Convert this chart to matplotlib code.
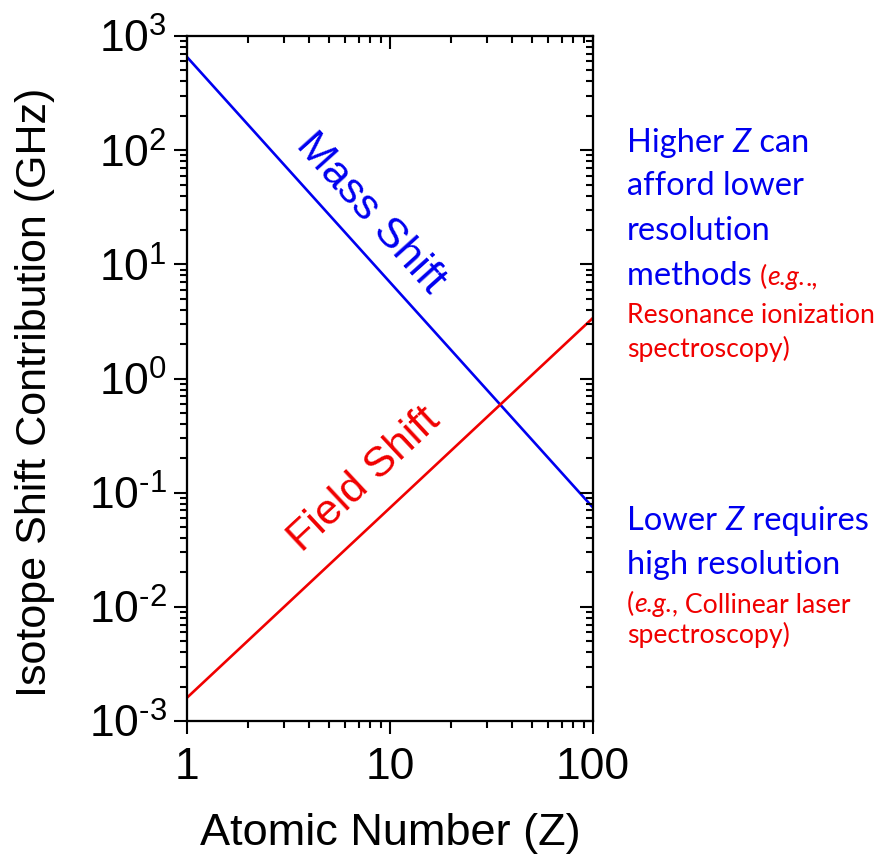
import math

import matplotlib
matplotlib.use("Agg")
import matplotlib.pyplot as plt
from matplotlib.ticker import FuncFormatter

# values (straight lines on log-log axes)
atomic_number = [1, 100]
mass_shift = [655.0, 0.074]
field_shift = [0.0016, 3.4]

x_ticks = [1, 10, 100]
x_tick_labels = ["1", "10", "100"]
y_ticks = [1e-3, 1e-2, 1e-1, 1e0, 1e1, 1e2, 1e3]

BLUE = "#0000f0"
RED = "#f00000"

plt.rcParams["font.family"] = ["Liberation Sans", "DejaVu Sans"]
plt.rcParams["mathtext.fontset"] = "custom"
plt.rcParams["mathtext.rm"] = "Liberation Sans"
plt.rcParams["axes.unicode_minus"] = False


def decade_label(value, pos):
    exp = int(round(math.log10(value)))
    if exp < 0:
        # plain hyphen in the exponent, as in the original
        return r"$\mathdefault{10^{\text{-}%d}}$" % (-exp)
    return r"$\mathdefault{10^{%d}}$" % exp


fig = plt.figure(figsize=(8.8, 8.64), dpi=100)
ax = fig.add_axes([0.2125, 0.1655, 0.4614, 0.7928])

ax.plot(atomic_number, mass_shift, color=BLUE, lw=1.9)
ax.plot(atomic_number, field_shift, color=RED, lw=1.9)

ax.set_xscale("log")
ax.set_yscale("log")
ax.set_xlim(1, 100)
ax.set_ylim(1e-3, 1e3)
ax.set_xticks(x_ticks)
ax.set_xticklabels(x_tick_labels)
ax.set_yticks(y_ticks)
ax.yaxis.set_major_formatter(FuncFormatter(decade_label))

ax.set_xlabel("Atomic Number (Z)", fontsize=32.5)
ax.set_ylabel("Isotope Shift Contribution (GHz)", fontsize=31)
ax.xaxis.set_label_coords(0.5, -0.164)
ax.xaxis.label.set_va("center")
ax.yaxis.set_label_coords(-0.374, 0.48)
ax.yaxis.label.set_va("center")

for side in ax.spines.values():
    side.set_linewidth(1.5)
ax.tick_params(which="major", direction="out", length=9.5, width=1.5,
               labelsize=32, pad=5)
ax.tick_params(axis="x", which="major", pad=9)
ax.tick_params(which="minor", direction="out", length=5, width=1.5)

# inward ticks on the top and right sides
top = ax.twiny()
top.set_xscale("log")
top.set_xlim(ax.get_xlim())
right = ax.twinx()
right.set_yscale("log")
right.set_ylim(ax.get_ylim())
for other in (top, right):
    other.tick_params(which="major", direction="in", length=9.5, width=1.5)
    other.tick_params(which="minor", direction="in", length=5, width=1.5)
    other.tick_params(labeltop=False, labelright=False)
    for side in other.spines.values():
        side.set_linewidth(1.5)

ax.text(8.0, 28, "Mass Shift", color=BLUE, fontsize=31, rotation=-48,
        ha="center", va="center", rotation_mode="anchor")
ax.text(7.5, 0.13, "Field Shift", color=RED, fontsize=31, rotation=43,
        ha="center", va="center", rotation_mode="anchor")


def text_line(y, pieces, x=0.7125):
    prev = None
    for s, color, size, italic in pieces:
        kw = dict(color=color, fontsize=size, family="Lato",
                  style="italic" if italic else "normal", va="baseline")
        if prev is None:
            prev = fig.text(x, y, s, **kw)
        else:
            prev = ax.annotate(s, xy=(1, y), xycoords=(prev, "figure fraction"),
                               annotation_clip=False, **kw)


BIG = 23.5
SMALL = 19.2
text_line(1 - 152 / 864, [("Higher ", BLUE, BIG, False), ("Z", BLUE, BIG, True),
                          (" can", BLUE, BIG, False)])
text_line(1 - 195 / 864, [("afford lower", BLUE, BIG, False)])
text_line(1 - 240 / 864, [("resolution", BLUE, BIG, False)])
text_line(1 - 285 / 864, [("methods ", BLUE, BIG, False), ("(", RED, SMALL, False),
                          ("e.g.", RED, SMALL, True), (".,", RED, SMALL, False)])
text_line(1 - 323 / 864, [("Resonance ionization", RED, SMALL, False)])
text_line(1 - 357 / 864, [("spectroscopy)", RED, SMALL, False)])

text_line(1 - 530 / 864, [("Lower ", BLUE, BIG, False), ("Z", BLUE, BIG, True),
                          (" requires", BLUE, BIG, False)])
text_line(1 - 574 / 864, [("high resolution", BLUE, BIG, False)])
text_line(1 - 612 / 864, [("(", RED, SMALL, False), ("e.g.", RED, SMALL, True),
                          (", Collinear laser", RED, SMALL, False)])
text_line(1 - 643 / 864, [("spectroscopy)", RED, SMALL, False)])

fig.savefig("out.png", dpi=100)
